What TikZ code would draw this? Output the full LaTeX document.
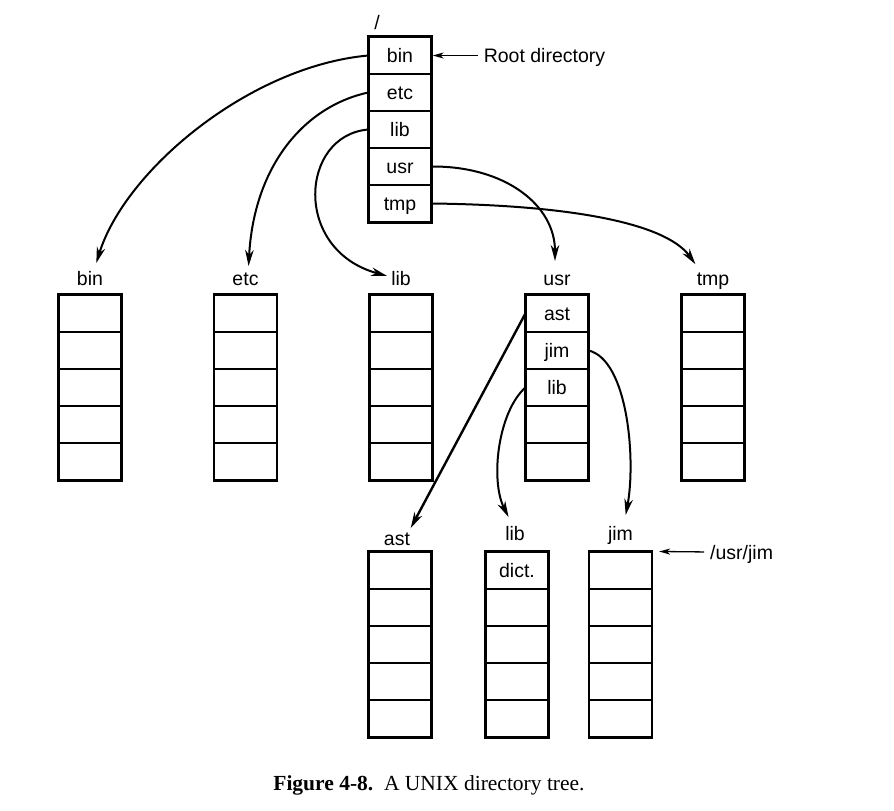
\documentclass[tikz,border=0pt]{standalone}
\usepackage{fontspec}
\setmainfont{Liberation Sans}
\newfontfamily\captionfont{Liberation Serif}
\usetikzlibrary{arrows.meta,positioning,calc}
\tikzset{
	%Define standard arrow tip
	>={Stealth[length=16pt,width=8.5pt,inset=5pt]},
	%Define style for cells
	cell/.style={
		rectangle,
		draw=black, line width=1.2pt,
		minimum width=62pt,
		minimum height=37pt,
		inner sep=0pt,
		font=\fontsize{19.5}{22}\selectfont,
		text height=13.5pt, text depth=0pt},
	outer/.style={line width=2pt},
	dirlabel/.style={inner sep=0pt, font=\fontsize{19.5}{22}\selectfont,
		text height=14pt, text depth=0pt},
	% Define arrow style
	pil/.style={
		->,
		line width=2pt,
		shorten >=1pt},
	% pointer from a text
	zeiger/.style={
		->, >={Stealth[length=11pt,width=6pt,inset=3pt]},
		line width=1.3pt,
		shorten <=6pt}
}
% directory with five cells: name, x, y of top, entries
\newcommand{\dirbox}[4]{%
	\foreach \txt [count=\i] in {#4} {
		\node[cell] (#1-\i) at (#2,{#3+18.5+37*(\i-1)}) {\txt};
	}
	\draw[outer] (#1-1.north west) rectangle (#1-5.south east);
}

\begin{document}
\begin{tikzpicture}[x=1pt,y=-1pt]
	\useasboundingbox (0,0) rectangle (894,811);
	% root directory
	\dirbox{root}{400}{37}{bin,etc,lib,usr,tmp}
	\node[dirlabel, anchor=base] (lroot) at (377,29) {/};
	\node[dirlabel, right=52pt of root-1] (rootdir) {Root directory};
	% second level
	\dirbox{bin}{90}{295}{{},{},{},{},{}}
	\dirbox{etc}{245.5}{295}{{},{},{},{},{}}
	\dirbox{lib}{401}{295}{{},{},{},{},{}}
	\dirbox{usr}{557}{295}{ast,jim,lib,{},{}}
	\dirbox{tmp}{713}{295}{{},{},{},{},{}}
	\node[dirlabel, above=9pt of bin-1] (lbin) {bin};
	\node[dirlabel, above=9pt of etc-1] (letc) {etc};
	\node[dirlabel, above=9pt of lib-1] (llib) {lib};
	\node[dirlabel, above=9pt of usr-1] (lusr) {usr};
	\node[dirlabel, above=9pt of tmp-1] (ltmp) {tmp};
	% third level
	\dirbox{ast}{400}{552}{{},{},{},{},{}}
	\dirbox{ulib}{517}{552}{dict.,{},{},{},{}}
	\dirbox{jim}{620.5}{552}{{},{},{},{},{}}
	\node[dirlabel, above=6pt of ast-1, xshift=-3pt] (last) {ast};
	\node[dirlabel, above=11pt of ulib-1, xshift=-2pt] (lulib) {lib};
	\node[dirlabel, above=11pt of jim-1] (ljim) {jim};
	\node[dirlabel, anchor=west] (usrjim) at (710,552) {/usr/jim};
	% arrows from the root
	\draw[pil] (root-1.west) .. controls (250,66) and (125,170) .. ($(lbin.north)+(6,-7)$);
	\draw[pil] (root-2.west) .. controls (305,106) and (254,165) .. ($(letc.north)+(3,-4)$);
	\draw[pil] (root-3.west) .. controls (300,135) and (292,250) .. ($(llib.west)+(-3,-2)$);
	\draw[pil] (root-4.east) .. controls (505,166) and (555,205) .. ($(lusr.north)+(-2,-9)$);
	\draw[pil] (root-5.east) .. controls (565,205) and (665,222) .. ($(ltmp.north)+(-17,-6)$);
	% arrows from usr
	\draw[pil, line width=2.4pt] (usr-1.west) -- ($(last.north east)+(0,-2)$);
	\draw[pil] (usr-3.west) .. controls (498,412) and (490,480) .. ($(lulib.north)+(-6,-8)$);
	\draw[pil] (usr-2.east) .. controls (628,360) and (636,460) .. ($(ljim.north)+(5,-10)$);
	% pointers
	\draw[zeiger, shorten >=1pt] (rootdir.west) -- (root-1.east);
	\draw[zeiger, shorten >=7pt] (usrjim.west) -- (jim-1.north east);
	% caption
	\node[anchor=base, inner sep=0pt, font=\captionfont\fontsize{21.5}{24}\selectfont] (caption) at (429,790)
		{\textbf{Figure 4-8.}\ \ A UNIX directory tree.};
\end{tikzpicture}
\end{document}
